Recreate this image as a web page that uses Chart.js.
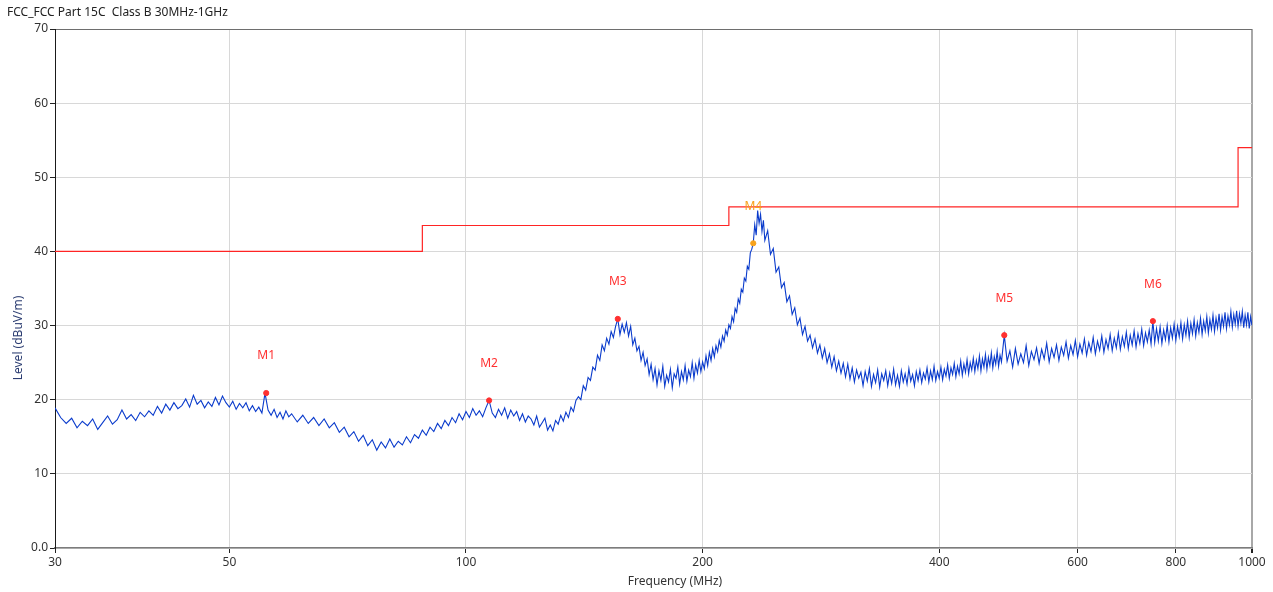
<!DOCTYPE html>
<html>
<head>
<meta charset="utf-8">
<script src="https://cdn.jsdelivr.net/npm/chart.js@4/dist/chart.umd.min.js"></script>
<style>
  body { margin: 0; background: #fff; }
  #wrap { position: relative; width: 1273px; height: 592px; }
  .lbl { position: absolute; font-family: 'Noto Sans', sans-serif; font-size: 12px; line-height: 16px; white-space: pre; }
  #title { left: 7px; top: 4px; color: #222; }
  #xtitle { left: 575px; top: 573px; width: 200px; text-align: center; color: #333; }
  #ytitle { left: -42px; top: 330px; width: 120px; text-align: center; color: #2e3f73; transform: rotate(-90deg); transform-origin: 60px 8px; }
</style>
</head>
<body>
<div id="wrap">
  <canvas id="c" width="1273" height="592"></canvas>
  <div id="title" class="lbl"></div>
  <div id="xtitle" class="lbl"></div>
  <div id="ytitle" class="lbl"></div>
</div>
<script>
// ---- text ----
const chartTitle = 'FCC_FCC Part 15C  Class B 30MHz-1GHz';
const xAxisTitle = 'Frequency (MHz)';
const yAxisTitle = 'Level (dBuV/m)';

// ---- tick labels ----
const xTickValues = [30, 50, 100, 200, 400, 600, 800, 1000];
const yTickValues = [0, 10, 20, 30, 40, 50, 60, 70];
const yTickLabels = ['0.0', '10', '20', '30', '40', '50', '60', '70'];

// ---- limit line (FCC Class B) ----
const limitFreqs  = [30, 88, 88, 216, 216, 960, 960, 1000];
const limitLevels = [40, 40, 43.5, 43.5, 46, 46, 54, 54];

// ---- markers ----
const markerNames  = ['M1', 'M2', 'M3', 'M4', 'M5', 'M6'];
const markerFreqs  = [55.7, 107, 156, 232, 484, 748];
const markerLevels = [20.9, 19.9, 30.9, 41.1, 28.7, 30.6];
const markerColors = ['#ff3030', '#ff3030', '#ff3030', '#f7a21b', '#ff3030', '#ff3030'];

const sweepStart = [30, 61, 121, 242, 484];
const sweepStep  = [0.5, 1, 1, 2, 4];
const levelsA = [18.9,17.6,16.8,17.5,16.2,17.1,16.5,17.4,16.0,16.9,17.8,16.7,17.3,18.6,17.4,18.0,17.2,18.3,17.7,18.5,
  17.9,19.1,18.2,19.4,18.6,19.6,18.8,19.2,20.1,19.0,20.6,19.4,19.9,18.9,19.7,19.1,20.3,19.3,20.5,19.6,
  19.0,19.8,18.7,19.5,18.9,19.6,18.5,19.2,18.4,19.0,18.2,20.9,18.6,17.9,18.7,17.6,18.3,17.4,18.5,17.7,18.1];
const levelsB = [17.0,17.9,16.8,17.6,16.5,17.4,16.2,16.9,15.6,16.3,15.0,15.7,14.4,15.2,13.8,14.6,13.2,14.3,13.5,14.7,
  13.6,14.4,13.9,15.0,14.2,15.3,14.8,15.9,15.2,16.3,15.7,16.8,16.1,17.2,16.5,17.6,16.9,18.1,17.3,18.4,
  17.6,18.8,17.9,18.5,17.7,18.9,19.9,18.2,17.6,18.7,17.9,18.9,17.5,18.6,17.8,18.4,17.2,18.1,17.0,17.8];
const levelsC = [17.4,16.6,17.8,16.3,16.9,17.5,15.9,16.6,15.8,17.2,16.7,17.9,17.1,18.3,17.6,19.0,18.4,19.9,20.4,20.0,
  21.9,21.3,23.0,22.6,24.4,24.0,26.0,25.3,27.4,26.6,28.3,27.5,29.2,28.4,29.9,30.9,28.8,30.2,29.1,30.4,
  28.6,29.9,27.4,28.3,26.6,27.2,25.3,26.4,24.6,25.5,23.4,24.8,22.7,24.2,22.0,23.9,22.6,24.5,21.8,23.3,
  22.4,24.1,21.6,23.5,22.9,24.4,22.1,23.8,22.7,24.6,22.5,24.0,23.1,25.0,22.9,24.7,23.6,25.3,23.8,25.1,
  24.2,25.9,24.6,26.4,25.3,26.9,25.8,27.3,26.5,28.0,27.1,28.6,27.9,29.4,28.7,30.1,29.6,31.2,30.5,32.3,
  31.8,33.6,33.0,34.9,34.5,36.4,36.0,38.0,37.6,39.8,40.3,41.1,43.6,42.2,45.5,43.8,45.0,42.7,44.2,41.5];
const levelsD = [42.8,39.6,40.4,37.2,37.9,35.1,35.8,33.2,34.0,31.5,32.4,30.1,31.0,28.8,29.9,27.9,28.7,27.0,28.2,26.3,
  27.4,25.6,26.9,25.0,26.2,24.4,25.8,23.9,25.2,23.6,24.9,23.1,24.8,22.8,24.3,22.4,24.0,22.9,23.7,21.9,
  23.8,22.5,24.2,21.8,23.4,22.3,24.0,21.7,23.5,22.6,23.9,21.9,23.6,22.2,24.1,22.0,23.3,21.8,23.9,22.4,
  23.5,22.1,24.2,22.5,23.4,21.9,23.8,22.6,24.0,22.3,23.6,22.8,24.3,22.4,23.9,22.7,24.5,22.6,23.8,22.9,
  24.4,22.7,24.1,23.2,24.7,22.9,24.3,23.4,24.9,23.1,24.5,23.5,25.2,23.3,24.8,23.7,25.4,23.5,25.0,24.0,
  25.6,23.8,25.3,24.2,25.9,23.9,25.5,24.4,26.1,24.1,25.7,24.6,26.3,24.3,25.8,24.8,26.5,24.5,26.0,25.1];
const levelsE = [28.7,25.2,26.6,24.4,26.9,24.8,26.2,25.0,27.3,24.6,26.5,25.4,27.0,24.9,26.8,25.5,27.6,25.1,26.9,25.7,
  27.4,25.3,27.1,26.0,27.8,25.6,27.3,26.1,28.0,25.8,27.5,26.3,28.2,26.0,27.7,26.5,28.4,26.2,27.9,26.7,
  28.6,26.4,28.1,26.9,28.8,26.6,28.3,27.0,29.0,26.8,28.5,27.2,29.1,26.9,28.7,27.4,29.3,27.1,28.9,27.6,
  29.5,27.3,29.0,27.8,29.4,27.5,30.6,27.7,29.6,27.9,29.8,27.6,29.4,28.1,30.0,27.8,29.7,28.3,30.2,28.0,
  29.9,28.5,30.4,28.2,30.1,28.7,30.6,28.4,30.3,28.9,30.8,28.6,30.4,29.1,31.0,28.8,30.6,29.3,31.2,29.0,
  30.8,29.5,31.4,29.2,31.0,29.7,31.6,29.4,31.2,29.9,31.8,29.6,31.3,30.1,31.9,29.8,31.5,30.2,32.0,29.9,
  31.6,30.3,31.9,29.7,31.4,30.1,31.8,29.6,31.2,30.0];
const traceLevels = [levelsA, levelsB, levelsC, levelsD, levelsE];

// ---- build datasets from the arrays ----
const tracePoints = [];
traceLevels.forEach((arr, s) => {
  arr.forEach((lv, i) => tracePoints.push({ x: sweepStart[s] + i * sweepStep[s], y: lv }));
});
const limitPoints = limitFreqs.map((f, i) => ({ x: f, y: limitLevels[i] }));
const markerPoints = markerFreqs.map((f, i) => ({ x: f, y: markerLevels[i] }));

document.getElementById('title').textContent = chartTitle;
document.getElementById('xtitle').textContent = xAxisTitle;
document.getElementById('ytitle').textContent = yAxisTitle;

const FONT = "'Noto Sans', sans-serif";

const markerLabelPlugin = {
  id: 'markerLabels',
  afterDatasetsDraw(chart) {
    const { ctx, scales } = chart;
    ctx.save();
    ctx.font = '12px ' + FONT;
    ctx.textAlign = 'center';
    ctx.textBaseline = 'middle';
    markerNames.forEach((name, i) => {
      const px = scales.x.getPixelForValue(markerFreqs[i]);
      const py = scales.y.getPixelForValue(markerLevels[i]) - 37;
      ctx.fillStyle = markerColors[i];
      ctx.fillText(name, px, py);
    });
    ctx.restore();
  }
};

new Chart(document.getElementById('c'), {
  type: 'line',
  data: {
    datasets: [
      {
        label: 'Markers',
        data: markerPoints,
        showLine: false,
        pointRadius: 2.6,
        pointBackgroundColor: markerColors,
        pointBorderColor: markerColors,
        pointBorderWidth: 1
      },
      {
        label: 'Limit',
        data: limitPoints,
        borderColor: '#ff2424',
        borderWidth: 1.2,
        pointRadius: 0,
        tension: 0
      },
      {
        label: 'Trace',
        data: tracePoints,
        borderColor: '#0a3bcc',
        borderWidth: 1.1,
        pointRadius: 0,
        tension: 0
      }
    ]
  },
  options: {
    responsive: false,
    animation: false,
    devicePixelRatio: 1,
    layout: { padding: { left: 0, top: 29, right: 21, bottom: 0 } },
    plugins: { legend: { display: false }, tooltip: { enabled: false }, title: { display: false } },
    scales: {
      x: {
        type: 'logarithmic',
        min: 30,
        max: 1000,
        afterBuildTicks(scale) { scale.ticks = xTickValues.map(v => ({ value: v })); },
        afterFit(scale) { scale.height = 44; },
        ticks: {
          autoSkip: false, maxRotation: 0, padding: 2,
          color: '#333', font: { family: FONT, size: 12 },
          callback: (v) => String(v)
        },
        grid: {
          color: (c) => (c.tick && c.tick.value === 1000) ? '#a8a8a8' : '#d8d8d8',
          lineWidth: (c) => (c.tick && c.tick.value === 1000) ? 2 : 1,
          tickColor: '#222', tickLength: 5
        },
        border: { color: '#7c7c7c', width: 1.5 }
      },
      y: {
        min: 0,
        max: 70,
        afterBuildTicks(scale) { scale.ticks = yTickValues.map(v => ({ value: v })); },
        afterFit(scale) { scale.width = 55; },
        ticks: {
          padding: 2, color: '#333', font: { family: FONT, size: 12 },
          callback: (v) => { const k = yTickValues.indexOf(v); return k >= 0 ? yTickLabels[k] : ''; }
        },
        grid: {
          color: (c) => (c.tick && c.tick.value === 70) ? '#6e6e6e' : '#d8d8d8',
          tickColor: '#222', tickLength: 5
        },
        border: { color: '#1a1a1a', width: 1 }
      }
    }
  },
  plugins: [markerLabelPlugin]
});
</script>
</body>
</html>
